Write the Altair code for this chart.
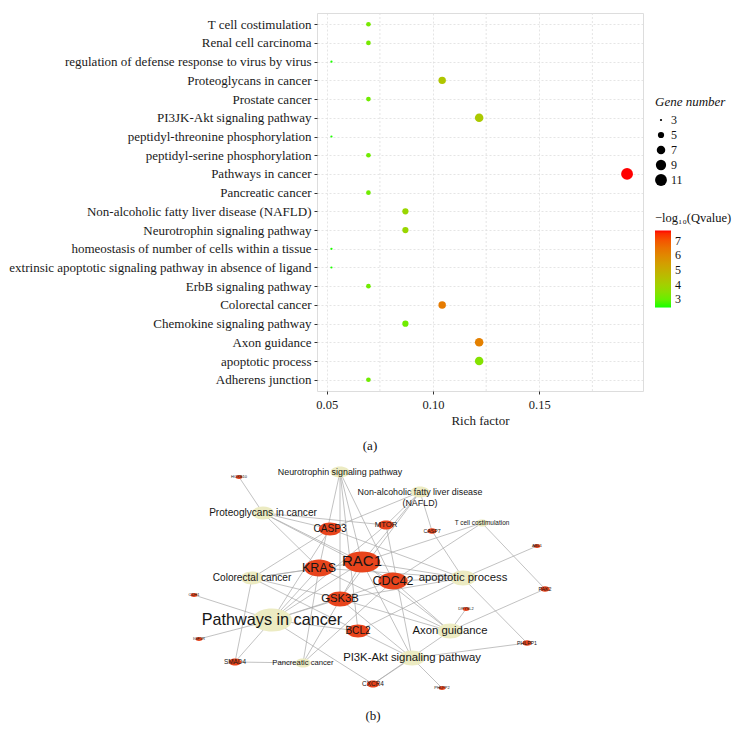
import altair as alt
import pandas as pd

# ---------------- panel (a): enrichment dot plot ----------------
terms = [
    "T cell costimulation", "Renal cell carcinoma",
    "regulation of defense response to virus by virus", "Proteoglycans in cancer",
    "Prostate cancer", "PI3JK-Akt signaling pathway",
    "peptidyl-threonine phosphorylation", "peptidyl-serine phosphorylation",
    "Pathways in cancer", "Pancreatic cancer",
    "Non-alcoholic fatty liver disease (NAFLD)", "Neurotrophin signaling pathway",
    "homeostasis of number of cells within a tissue",
    "extrinsic apoptotic signaling pathway in absence of ligand",
    "ErbB signaling pathway", "Colorectal cancer", "Chemokine signaling pathway",
    "Axon guidance", "apoptotic process", "Adherens junction",
]
rich_factor = [0.0696, 0.0696, 0.0522, 0.1043, 0.0696, 0.1217, 0.0522, 0.0696, 0.1913, 0.0696,
               0.0870, 0.0870, 0.0522, 0.0522, 0.0696, 0.1043, 0.0870, 0.1217, 0.1217, 0.0696]
gene_number = [4, 4, 3, 6, 4, 7, 3, 4, 11, 4, 5, 5, 3, 3, 4, 6, 5, 7, 7, 4]
neg_log_q = [3.2, 3.2, 2.5, 4.3, 3.1, 4.2, 2.5, 3.1, 7.7, 3.1,
             3.8, 3.8, 2.5, 2.5, 3.1, 6.3, 3.1, 6.2, 3.4, 3.1]

x_major = [0.05, 0.10, 0.15]
x_minor = [0.075, 0.125, 0.175]
size_legend_values = [3, 5, 7, 9, 11]
color_legend_values = [3, 4, 5, 6, 7]

# ---------------- panel (b): gene / pathway network ----------------
node_names = [
    "Neurotrophin signaling pathway", "Non-alcoholic fatty liver disease\n(NAFLD)",
    "Proteoglycans in cancer", "T cell costimulation", "Colorectal cancer",
    "apoptotic process", "Pathways in cancer", "Axon guidance",
    "PI3K-Akt signaling pathway", "Pancreatic cancer",
    "CASP3", "MTOR", "CASP7", "RAC1", "KRAS", "CDC42", "GSK3B", "BCL2", "SMAD4",
    "CXCR4", "PHLPP2", "PHLPP1", "DPYSL2", "PAK2", "ABL1", "HOXB10", "CDH1", "IGF1R",
]
node_kind = ["pathway"] * 10 + ["gene"] * 18
node_x = [337, 417, 260, 479, 249, 460, 269, 447, 409, 300,
          327, 383, 429, 359, 316, 390, 337, 355, 232, 370, 439, 524, 463, 542, 534, 236, 191, 196]
node_y = [17, 37, 58, 68, 123, 123, 165, 176, 203, 208,
          74, 70, 76, 107, 113, 126, 144, 176, 207, 229, 233, 188, 154, 134, 91, 22, 140, 184]
node_degree = [5, 5, 6, 3, 6, 7, 11, 7, 7, 4,
               6, 4, 2, 10, 8, 8, 7, 6, 3, 3, 1, 2, 1, 2, 1, 1, 1, 1]

edge_source = [
    "RAC1", "RAC1", "RAC1", "RAC1", "RAC1", "RAC1", "RAC1", "RAC1", "RAC1", "RAC1",
    "KRAS", "KRAS", "KRAS", "KRAS", "KRAS", "KRAS", "KRAS",
    "CDC42", "CDC42", "CDC42", "CDC42", "CDC42", "CDC42", "CDC42",
    "GSK3B", "GSK3B", "GSK3B", "GSK3B", "GSK3B", "GSK3B", "GSK3B",
    "BCL2", "BCL2", "BCL2", "BCL2", "BCL2",
    "CASP3", "CASP3", "CASP3", "CASP3", "CASP3",
    "MTOR", "MTOR", "MTOR", "MTOR",
    "CASP7", "CASP7", "SMAD4", "SMAD4", "SMAD4", "CXCR4", "CXCR4", "CXCR4",
    "PHLPP2", "PHLPP1", "PHLPP1", "DPYSL2", "PAK2", "PAK2", "ABL1", "HOXB10", "CDH1", "IGF1R",
]
edge_target = [
    "Neurotrophin signaling pathway", "Proteoglycans in cancer", "Colorectal cancer",
    "Pathways in cancer", "Axon guidance", "PI3K-Akt signaling pathway", "Pancreatic cancer",
    "T cell costimulation", "Non-alcoholic fatty liver disease\n(NAFLD)", "apoptotic process",
    "Neurotrophin signaling pathway", "Proteoglycans in cancer", "Colorectal cancer",
    "Pathways in cancer", "Pancreatic cancer", "Axon guidance", "apoptotic process",
    "Neurotrophin signaling pathway", "Proteoglycans in cancer", "Pathways in cancer",
    "Pancreatic cancer", "Axon guidance", "T cell costimulation", "apoptotic process",
    "Neurotrophin signaling pathway", "Pathways in cancer", "Colorectal cancer",
    "PI3K-Akt signaling pathway", "Axon guidance", "Non-alcoholic fatty liver disease\n(NAFLD)",
    "apoptotic process",
    "Neurotrophin signaling pathway", "Pathways in cancer", "Colorectal cancer",
    "PI3K-Akt signaling pathway", "apoptotic process",
    "Non-alcoholic fatty liver disease\n(NAFLD)", "Proteoglycans in cancer", "Pathways in cancer",
    "Colorectal cancer", "apoptotic process",
    "Proteoglycans in cancer", "Pathways in cancer", "PI3K-Akt signaling pathway",
    "Non-alcoholic fatty liver disease\n(NAFLD)",
    "Non-alcoholic fatty liver disease\n(NAFLD)", "apoptotic process",
    "Colorectal cancer", "Pathways in cancer", "Pancreatic cancer",
    "Pathways in cancer", "Axon guidance", "PI3K-Akt signaling pathway",
    "PI3K-Akt signaling pathway", "PI3K-Akt signaling pathway", "apoptotic process",
    "Axon guidance", "Axon guidance", "T cell costimulation", "apoptotic process",
    "Proteoglycans in cancer", "Pathways in cancer", "Pathways in cancer",
]

# ---------------- build tables ----------------
df_a = pd.DataFrame({"term": terms, "rich": rich_factor, "genes": gene_number, "q": neg_log_q})
df_minor = pd.DataFrame({"rich": x_minor})

nodes = pd.DataFrame({"name": node_names, "kind": node_kind, "x": node_x, "y": node_y,
                      "deg": node_degree})
pos = nodes.set_index("name")
edges = pd.DataFrame({"s": edge_source, "t": edge_target})
edges["x"] = edges["s"].map(pos["x"])
edges["y"] = edges["s"].map(pos["y"])
edges["x2"] = edges["t"].map(pos["x"])
edges["y2"] = edges["t"].map(pos["y"])

serif = "Liberation Serif"
sans = "Liberation Sans"

# ---------------- panel (a) chart ----------------
xscale = alt.Scale(domain=[0.0454, 0.1988], nice=False, zero=False)
x_axis = alt.Axis(values=x_major, format=".2f", grid=True, gridColor="#dedede",
                  gridDash=[2, 2], gridWidth=0.8, domain=False, tickColor="#333333",
                  tickSize=3, labelFont=serif, labelFontSize=12.5, labelColor="#1a1a1a",
                  labelPadding=4, titleFont=serif, titleFontSize=13,
                  titleFontWeight="normal", titleColor="#1a1a1a", titlePadding=4)
x_enc = alt.X("rich:Q", scale=xscale, title="Rich factor", axis=x_axis)

minor_grid = alt.Chart(df_minor).mark_rule(
    color="#dedede", strokeWidth=0.8, strokeDash=[2, 2]
).encode(x=x_enc)

points = alt.Chart(df_a).mark_circle(opacity=1).encode(
    x=x_enc,
    y=alt.Y("term:N", sort=terms, title=None,
            scale=alt.Scale(type="point", padding=0.6),
            axis=alt.Axis(grid=True, gridColor="#dedede", gridDash=[2, 2], gridWidth=0.8,
                          domain=False, tickColor="#333333", tickSize=3, labelPadding=3,
                          labelFont=serif, labelFontSize=13, labelColor="#1a1a1a",
                          labelLimit=500)),
    size=alt.Size("genes:Q", scale=alt.Scale(domain=[3, 11], range=[5, 140], zero=False),
                  legend=alt.Legend(title="Gene number", values=size_legend_values,
                                    orient="none", legendX=338, legendY=83,
                                    titleFont=serif, titleFontSize=13,
                                    titleFontStyle="italic", titleFontWeight="normal",
                                    titleColor="#111111", labelFont=serif,
                                    labelFontSize=12, labelColor="#111111",
                                    symbolFillColor="black", symbolStrokeWidth=0,
                                    symbolOpacity=1, rowPadding=3, titlePadding=5)),
    color=alt.Color("q:Q",
                    scale=alt.Scale(domain=[2.45, 7.7], range=["#00ff00", "#ff0000"],
                                    interpolate="lab"),
                    legend=alt.Legend(title="\u2212log\u2081\u2080(Qvalue)",
                                      values=color_legend_values, orient="none",
                                      direction="vertical", legendX=338, legendY=199,
                                      gradientLength=77, gradientThickness=16,
                                      gradientStrokeWidth=0, titleFont=serif,
                                      titleFontSize=12.5, titleFontWeight="normal",
                                      titleColor="#111111", labelFont=serif,
                                      labelFontSize=12, labelColor="#111111",
                                      labelOffset=4, titlePadding=6)),
)

panel_a = alt.layer(minor_grid, points).properties(
    width=326, height=378,
    title=alt.TitleParams("(a)", orient="bottom", font=serif, fontSize=13,
                          fontWeight="normal", color="#111111", offset=12,
                          frame="group", dx=-110),
)

# ---------------- panel (b) chart ----------------
# plot area of panel (b) shares its left edge with panel (a); nodes may sit left of it
nx = alt.Scale(domain=[314, 554], nice=False, zero=False)
ny = alt.Scale(domain=[0, 245], nice=False, zero=False, reverse=True)
ellipse = "M -1 0 A 1 0.58 0 1 1 1 0 A 1 0.58 0 1 1 -1 0 Z"

edge_layer = alt.Chart(edges).mark_rule(color="#a8a8a8", strokeWidth=0.7).encode(
    x=alt.X("x:Q", scale=nx, axis=None), y=alt.Y("y:Q", scale=ny, axis=None),
    x2="x2:Q", y2="y2:Q",
)
node_layer = alt.Chart(nodes).mark_point(shape=ellipse, filled=True, opacity=1,
                                         strokeWidth=0).encode(
    x=alt.X("x:Q", scale=nx, axis=None), y=alt.Y("y:Q", scale=ny, axis=None),
    size=alt.Size("deg:Q", scale=alt.Scale(type="pow", exponent=2, domain=[1, 11],
                                           range=[49, 1600], zero=False), legend=None),
    color=alt.Color("kind:N", scale=alt.Scale(domain=["pathway", "gene"],
                                              range=["#ecebc2", "#e8441c"]), legend=None),
)
label_layer = alt.Chart(nodes).mark_text(font=sans, color="#151515", lineBreak="\n",
                                         align="center", baseline="middle").encode(
    x=alt.X("x:Q", scale=nx, axis=None), y=alt.Y("y:Q", scale=ny, axis=None),
    text="name:N",
    size=alt.Size("deg:Q", scale=alt.Scale(domain=[1, 11], range=[4, 16.2], zero=False),
                  legend=None),
)

panel_b = alt.layer(edge_layer, node_layer, label_layer).resolve_scale(
    size="independent"
).properties(
    width=240, height=245,
    view=alt.ViewBackground(stroke="transparent"),
    title=alt.TitleParams("(b)", orient="bottom", font=serif, fontSize=13,
                          fontWeight="normal", color="#111111", offset=10,
                          frame="group", dx=-64),
)

chart = alt.vconcat(panel_a, panel_b, spacing=1).resolve_scale(
    color="independent", size="independent"
).properties(
    padding={"left": 0, "top": 4, "right": 0, "bottom": 0}
).configure_view(stroke="#b0b0b0", strokeWidth=1.5).configure(background="white")

chart.save("out.html", embed_options={"renderer": "svg", "actions": False})
